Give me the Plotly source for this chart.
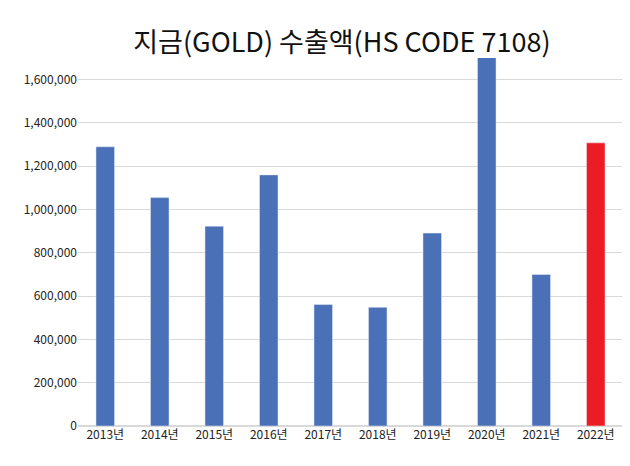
import plotly.graph_objects as go

years = ["2013년","2014년","2015년","2016년","2017년","2018년","2019년","2020년","2021년","2022년"]
values = [1290000,1055000,923000,1160000,561000,548000,891000,1703000,700000,1308000]
colors = ["#4A70B8"]*9 + ["#ED1C24"]

fig = go.Figure(go.Bar(x=years, y=values, marker_color=colors, width=0.34))
fig.update_layout(
    width=630, height=466,
    margin=dict(l=70, r=15, t=50, b=48),
    plot_bgcolor="white", paper_bgcolor="white",
    font=dict(family="Noto Sans CJK KR", size=12, color="#222"),
    title=dict(text="지금(GOLD) 수출액(HS CODE 7108)", x=0.53, xanchor="center", y=0.925, yanchor="middle",
               font=dict(size=27, color="#111")),
    showlegend=False,
)
fig.update_yaxes(range=[0, 1700000], tickvals=list(range(0, 1700000, 200000)),
                 tickformat=",", showgrid=True, gridcolor="#D9D9D9", zeroline=True,
                 zerolinecolor="#D9D9D9", ticks="", tickfont=dict(size=12))
fig.update_xaxes(showline=False, ticks="", tickfont=dict(size=12))
fig.write_html("out.html")
